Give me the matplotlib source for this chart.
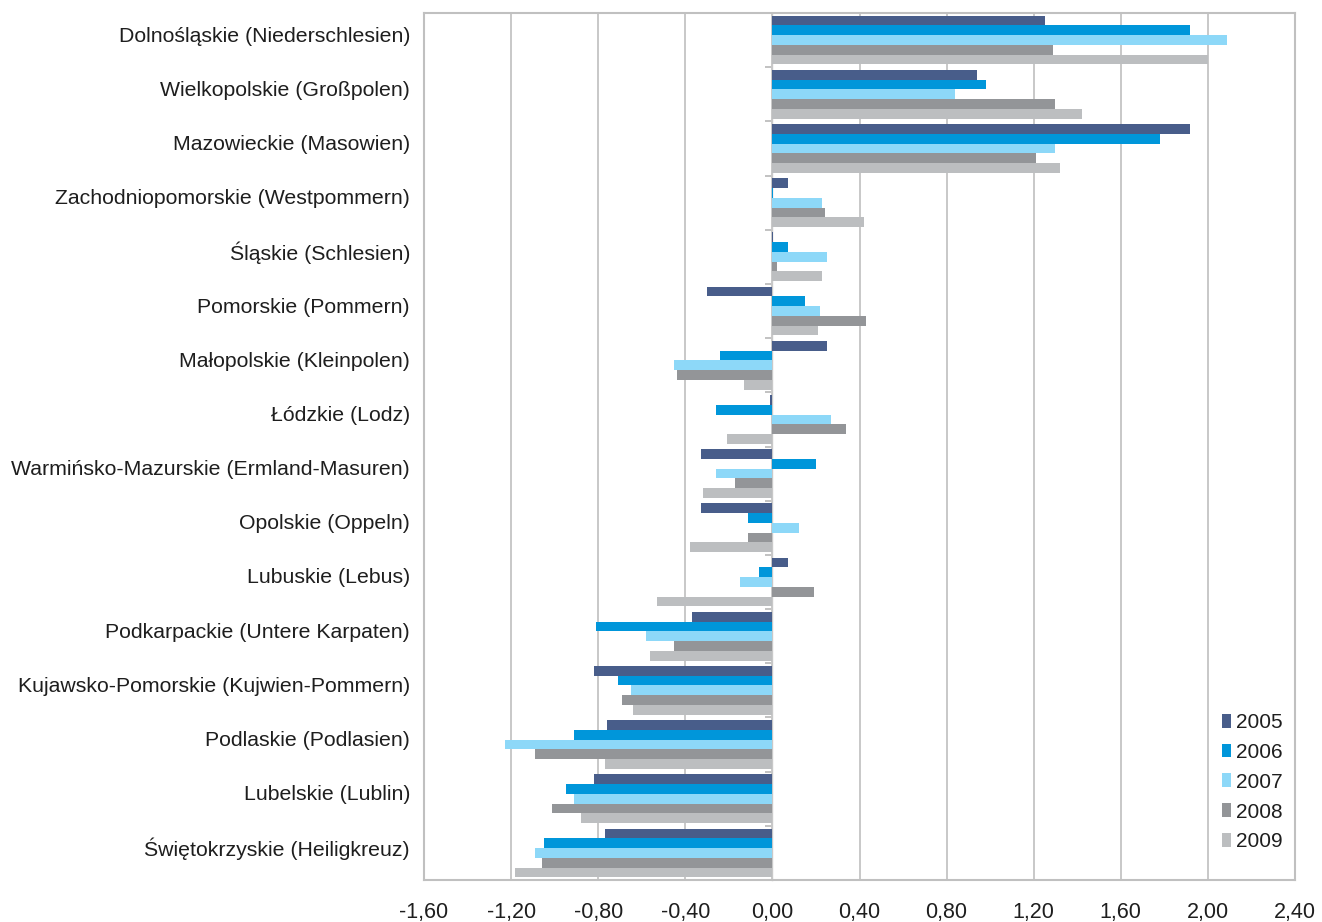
import matplotlib
matplotlib.use("Agg")
import matplotlib.pyplot as plt
import matplotlib.transforms as mtransforms
import numpy as np

plt.rcParams['font.family'] = ['Liberation Sans', 'DejaVu Sans']

regions = [
    "Dolnośląskie (Niederschlesien)",
    "Wielkopolskie (Großpolen)",
    "Mazowieckie (Masowien)",
    "Zachodniopomorskie (Westpommern)",
    "Śląskie (Schlesien)",
    "Pomorskie (Pommern)",
    "Małopolskie (Kleinpolen)",
    "Łódzkie (Lodz)",
    "Warmińsko-Mazurskie (Ermland-Masuren)",
    "Opolskie (Oppeln)",
    "Lubuskie (Lebus)",
    "Podkarpackie (Untere Karpaten)",
    "Kujawsko-Pomorskie (Kujwien-Pommern)",
    "Podlaskie (Podlasien)",
    "Lubelskie (Lublin)",
    "Świętokrzyskie (Heiligkreuz)",
]

years = ["2005", "2006", "2007", "2008", "2009"]

v2005 = [1.25, 0.94, 1.92, 0.07, 0.005, -0.30, 0.25, -0.01, -0.33, -0.33,
         0.07, -0.37, -0.82, -0.76, -0.82, -0.77]
v2006 = [1.92, 0.98, 1.78, 0.005, 0.07, 0.15, -0.24, -0.26, 0.20, -0.11,
         -0.06, -0.81, -0.71, -0.91, -0.95, -1.05]
v2007 = [2.09, 0.84, 1.30, 0.23, 0.25, 0.22, -0.45, 0.27, -0.26, 0.12,
         -0.15, -0.58, -0.65, -1.23, -0.91, -1.09]
v2008 = [1.29, 1.30, 1.21, 0.24, 0.02, 0.43, -0.44, 0.34, -0.17, -0.11,
         0.19, -0.45, -0.69, -1.09, -1.01, -1.06]
v2009 = [2.00, 1.42, 1.32, 0.42, 0.23, 0.21, -0.13, -0.21, -0.32, -0.38,
         -0.53, -0.56, -0.64, -0.77, -0.88, -1.18]

series = [v2005, v2006, v2007, v2008, v2009]
colors = ["#485D8A", "#0096DA", "#8DD8F8", "#939598", "#BCBEC0"]

x_ticks = [-1.6, -1.2, -0.8, -0.4, 0.0, 0.4, 0.8, 1.2, 1.6, 2.0, 2.4]

W, H = 1322, 922
fig = plt.figure(figsize=(W / 100, H / 100), dpi=100)
ax = fig.add_axes([424 / W, 1 - 880 / H, (1295 - 424) / W, (880 - 13) / H])

n = len(regions)
pos = np.arange(n)
bar_h = 0.18
for j, (vals, col, yr) in enumerate(zip(series, colors, years)):
    ax.barh(pos + (j - 2) * bar_h, vals, height=bar_h, color=col,
            edgecolor="none", label=yr, zorder=3)

ax.set_xlim(-1.6, 2.4)
ax.set_ylim(n - 0.5, -0.5)

# x axis: comma decimals, vertical gridlines
ax.set_xticks(x_ticks)
ax.set_xticklabels([f"{t:.2f}".replace(".", ",") for t in x_ticks],
                   fontsize=15.5, color="#1E1E1E")
ax.tick_params(axis="x", length=0, pad=15.5)
ax.grid(axis="x", color="#C8C8C8", linewidth=1.4, zorder=0)
ax.set_axisbelow(True)

# category labels on the left edge
ax.set_yticks(pos)
ax.set_yticklabels(regions, fontsize=15.3, color="#1E1E1E")
ax.tick_params(axis="y", length=0, pad=10)
shift = mtransforms.ScaledTranslation(0, 6 / 100, fig.dpi_scale_trans)
for lbl in ax.get_yticklabels():
    lbl.set_transform(lbl.get_transform() + shift)

for sp in ax.spines.values():
    sp.set_color("#C0C0C0")
    sp.set_linewidth(1.5)

# category axis drawn through zero with boundary tick marks
zero_frac = (0 - (-1.6)) / (2.4 - (-1.6))
cat_ax = ax.secondary_yaxis(zero_frac)
cat_ax.set_yticks(np.arange(n + 1) - 0.5)
cat_ax.set_yticklabels([])
cat_ax.tick_params(axis="y", length=5, width=1.2, color="#B8B8B8", direction="out")
cat_ax.spines["left"].set_color("#C8C8C8")
cat_ax.spines["left"].set_linewidth(1.0)

leg = ax.legend(loc="upper left", bbox_to_anchor=(1222 / W, 1 - 713 / H),
                bbox_transform=fig.transFigure, frameon=False, fontsize=15,
                handlelength=0.45, handleheight=0.65, handletextpad=0.2,
                labelspacing=0.52, borderpad=0, borderaxespad=0)
for t in leg.get_texts():
    t.set_color("#1E1E1E")

fig.savefig("out.png", dpi=100)
